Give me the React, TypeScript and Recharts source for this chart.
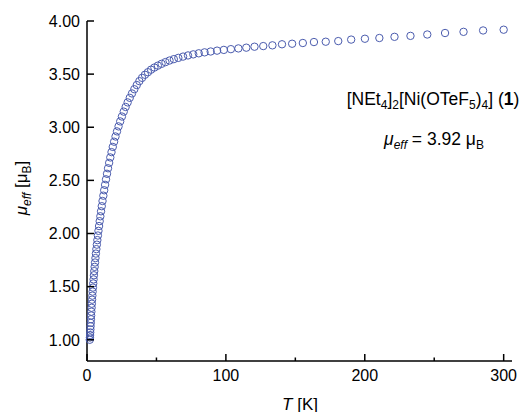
import React from "react";
import { ScatterChart, Scatter, XAxis, YAxis } from "recharts";

const temperatures: number[] = [
  2.0, 2.104, 2.213, 2.328, 2.449, 2.576, 2.71, 2.851, 2.999, 3.154,
  3.318, 3.49, 3.672, 3.862, 4.063, 4.274, 4.496, 4.729, 4.975, 5.233,
  5.505, 5.791, 6.092, 6.408, 6.741, 7.091, 7.459, 7.847, 8.254, 8.683,
  9.134, 9.608, 10.11, 10.63, 11.18, 11.77, 12.38, 13.02, 13.7, 14.41,
  15.15, 15.94, 16.77, 17.64, 18.56, 19.52, 20.53, 21.6, 22.72, 23.9,
  25.14, 26.45, 27.82, 29.27, 30.79, 32.39, 34.07, 35.84, 37.7, 39.66,
  41.72, 43.86, 46.14, 48.53, 51.05, 53.7, 56.49, 59.42, 62.51, 65.76,
  69.17, 72.72, 76.5, 80.47, 84.65, 89.04, 93.66, 98.52, 103.6, 109.0,
  114.7, 120.6, 126.9, 133.5, 140.4, 147.7, 155.4, 163.4, 171.9, 180.9,
  190.2, 200.1, 210.5, 221.4, 232.9, 245.0, 257.8, 271.1, 285.2, 300.0,
];

const muEff: number[] = [
  1.0, 1.021, 1.044, 1.069, 1.097, 1.127, 1.159, 1.193, 1.228, 1.264,
  1.301, 1.339, 1.377, 1.415, 1.453, 1.491, 1.53, 1.568, 1.607, 1.646,
  1.686, 1.727, 1.769, 1.811, 1.853, 1.895, 1.938, 1.981, 2.025, 2.07,
  2.116, 2.162, 2.209, 2.257, 2.306, 2.356, 2.407, 2.458, 2.51, 2.562,
  2.614, 2.665, 2.716, 2.766, 2.815, 2.864, 2.913, 2.961, 3.008, 3.055,
  3.101, 3.147, 3.191, 3.234, 3.277, 3.318, 3.358, 3.397, 3.434, 3.465,
  3.494, 3.518, 3.542, 3.562, 3.58, 3.597, 3.613, 3.628, 3.641, 3.653,
  3.665, 3.676, 3.686, 3.696, 3.705, 3.713, 3.721, 3.728, 3.735, 3.742,
  3.749, 3.758, 3.764, 3.771, 3.781, 3.786, 3.793, 3.802, 3.805, 3.811,
  3.825, 3.833, 3.84, 3.851, 3.86, 3.873, 3.887, 3.898, 3.911, 3.918,
];

const xTicks: number[] = [0, 50, 100, 150, 200, 250, 300];
const xLabelTicks: number[] = [0, 100, 200, 300];
const yTicks: number[] = [1.0, 1.5, 2.0, 2.5, 3.0, 3.5, 4.0];

const data = temperatures.map((t, i) => ({ T: t, mu: muEff[i] }));

const FONT = "'Liberation Sans', Arial, Helvetica, sans-serif";
const POINT = "#4B5CAE";

const XTick = (props: any) => {
  const { x, y, payload } = props;
  const v = payload.value as number;
  const major = xLabelTicks.includes(v);
  return (
    <g>
      <line x1={x} x2={x} y1={y} y2={y - (major ? 7 : 3.5)} stroke="#000" strokeWidth={1.5} />
      {major && (
        <text x={x} y={y + 19.5} textAnchor="middle" fontSize={16} fontFamily={FONT} fill="#000">
          {String(v)}
        </text>
      )}
    </g>
  );
};

const YTick = (props: any) => {
  const { x, y, payload } = props;
  const v = payload.value as number;
  return (
    <g>
      <line x1={x} x2={x + 7} y1={y} y2={y} stroke="#000" strokeWidth={1.5} />
      <text x={x - 7} y={y + 5.8} textAnchor="end" fontSize={16} fontFamily={FONT} fill="#000">
        {v.toFixed(2)}
      </text>
    </g>
  );
};

const Marker = (props: any) => {
  const { cx, cy } = props;
  if (cx == null || cy == null) return null;
  return <circle cx={cx} cy={cy} r={3.7} fill="none" stroke={POINT} strokeWidth={1} />;
};

export default function App() {
  return (
    <div style={{ position: "absolute", left: 0, top: 0, width: 523, height: 412, background: "#fff" }}>
      <ScatterChart width={523} height={412} margin={{ top: 21, right: 11, bottom: 0, left: 0 }}>
        <XAxis
          type="number"
          dataKey="T"
          domain={[0, 306]}
          ticks={xTicks}
          interval={0}
          tick={XTick}
          tickLine={false}
          tickSize={0}
          tickMargin={0}
          height={51}
          axisLine={{ stroke: "#000", strokeWidth: 1.5 }}
        />
        <YAxis
          type="number"
          dataKey="mu"
          domain={[0.8, 4.0]}
          ticks={yTicks}
          interval={0}
          tick={YTick}
          tickLine={false}
          tickSize={0}
          tickMargin={0}
          width={87}
          axisLine={{ stroke: "#000", strokeWidth: 1.5 }}
        />
        <Scatter data={data} shape={Marker} isAnimationActive={false} />
      </ScatterChart>
      <svg
        width={523}
        height={412}
        style={{ position: "absolute", left: 0, top: 0, pointerEvents: "none" }}
      >
        <text x={300} y={409.5} textAnchor="middle" fontSize={17} fontFamily={FONT} fill="#000">
          <tspan fontStyle="italic">T</tspan>
          <tspan>{" [K]"}</tspan>
        </text>
        <text
          transform="translate(27,188) rotate(-90)"
          x={0}
          y={0}
          textAnchor="middle"
          fontSize={17}
          fontFamily={FONT}
          fill="#000"
        >
          <tspan fontStyle="italic">μ</tspan>
          <tspan fontStyle="italic" fontSize={12} dy={4}>eff</tspan>
          <tspan dy={-4}>{" [μ"}</tspan>
          <tspan fontSize={12} dy={4}>B</tspan>
          <tspan dy={-4}>]</tspan>
        </text>
        <text x={433} y={105} textAnchor="middle" fontSize={17.5} fontFamily={FONT} fill="#000">
          <tspan>[NEt</tspan>
          <tspan fontSize={12} dy={4}>4</tspan>
          <tspan dy={-4}>]</tspan>
          <tspan fontSize={12} dy={4}>2</tspan>
          <tspan dy={-4}>[Ni(OTeF</tspan>
          <tspan fontSize={12} dy={4}>5</tspan>
          <tspan dy={-4}>)</tspan>
          <tspan fontSize={12} dy={4}>4</tspan>
          <tspan dy={-4}>{"] ("}</tspan>
          <tspan fontWeight="bold">1</tspan>
          <tspan>)</tspan>
        </text>
        <text x={434} y={145} textAnchor="middle" fontSize={17.5} fontFamily={FONT} fill="#000">
          <tspan fontStyle="italic">μ</tspan>
          <tspan fontStyle="italic" fontSize={12} dy={4}>eff</tspan>
          <tspan dy={-4}>{" = 3.92 μ"}</tspan>
          <tspan fontSize={12} dy={4}>B</tspan>
        </text>
      </svg>
    </div>
  );
}
